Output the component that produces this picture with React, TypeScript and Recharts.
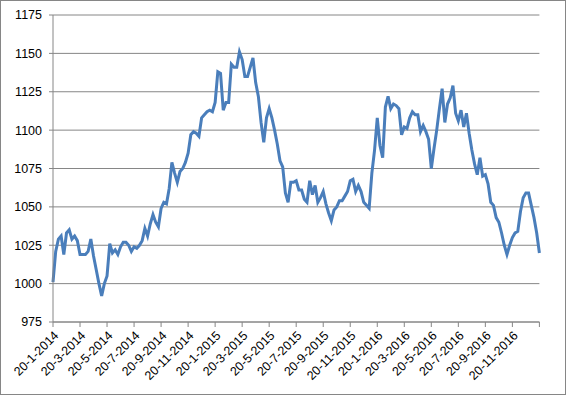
import { LineChart, Line, XAxis, YAxis, CartesianGrid } from "recharts";

// index value, 10 points per two-month tick interval
const values = [
  1001, 1021, 1029, 1031, 1019, 1033, 1035, 1029, 1031, 1028,
  1019, 1019, 1019, 1021, 1029, 1018, 1009, 1000, 992, 1000,
  1005, 1026, 1020, 1022, 1019, 1024, 1027, 1027, 1025, 1021,
  1024, 1023, 1025, 1028, 1036, 1031, 1039, 1045, 1040, 1037,
  1049, 1053, 1052, 1062, 1079, 1072, 1066, 1073, 1075, 1079,
  1085, 1097, 1099, 1098, 1096, 1108, 1110, 1112, 1113, 1112,
  1118, 1138, 1137, 1113, 1118, 1118, 1143, 1141, 1141, 1151,
  1146, 1135, 1135, 1141, 1147, 1131, 1122, 1105, 1092, 1108,
  1114, 1108, 1100, 1091, 1080, 1076, 1059, 1053, 1066, 1066,
  1067, 1061, 1061, 1055, 1053, 1067, 1058, 1064, 1053, 1056,
  1060, 1052, 1046, 1041, 1048, 1050, 1054, 1054, 1057, 1060,
  1067, 1068, 1060, 1064, 1060, 1053, 1051, 1049, 1072, 1087,
  1108, 1090, 1082, 1115, 1122, 1114, 1117, 1116, 1114, 1097,
  1102, 1101, 1108, 1112, 1110, 1110, 1099, 1103, 1099, 1094,
  1075, 1088, 1100, 1114, 1127, 1105, 1117, 1121, 1129, 1111,
  1106, 1113, 1102, 1111, 1098, 1087, 1078, 1071, 1082, 1070,
  1071, 1065, 1053, 1051, 1043, 1040, 1033, 1025, 1019, 1025,
  1030, 1033, 1034, 1047, 1056, 1059, 1059, 1051, 1043, 1033,
  1020,
];

const tickLabels = [
  "20-1-2014", "20-3-2014", "20-5-2014", "20-7-2014", "20-9-2014", "20-11-2014",
  "20-1-2015", "20-3-2015", "20-5-2015", "20-7-2015", "20-9-2015", "20-11-2015",
  "20-1-2016", "20-3-2016", "20-5-2016", "20-7-2016", "20-9-2016", "20-11-2016",
  "",
];

const yTicks = [975, 1000, 1025, 1050, 1075, 1100, 1125, 1150, 1175];
const pointsPerTick = 10;

const data = values.map((v, i) => ({ i, v }));
const xTicks = tickLabels.map((_, k) => k * pointsPerTick);

const font = "'Liberation Sans', Arial, sans-serif";
const gray = "#868686";

export default function App() {
  return (
    <div style={{ position: "relative", width: 566, height: 395, background: "#fff" }}>
      <style>{`body{margin:0}`}</style>
      <LineChart
        width={566}
        height={395}
        data={data}
        margin={{ top: 15, right: 26.6, bottom: 0, left: 0 }}
      >
        <CartesianGrid vertical={false} stroke={gray} strokeWidth={1} />
        <XAxis
          dataKey="i"
          type="number"
          domain={[0, values.length - 1]}
          ticks={xTicks}
          interval={0}
          tickFormatter={(t: number) => tickLabels[Math.round(t / pointsPerTick)]}
          angle={-45}
          textAnchor="end"
          height={73}
          tickSize={5}
          tickMargin={3}
          stroke={gray}
          tick={{ fill: "#000", fontSize: 12.5, fontFamily: font }}
        />
        <YAxis
          domain={[975, 1175]}
          ticks={yTicks}
          interval={0}
          width={53}
          tickSize={4}
          tickMargin={7}
          stroke={gray}
          tick={{ fill: "#000", fontSize: 12.5, fontFamily: font }}
        />
        <Line
          dataKey="v"
          type="linear"
          stroke="#4A7EBB"
          strokeWidth={3}
          dot={false}
          isAnimationActive={false}
        />
      </LineChart>
      <div
        style={{
          position: "absolute",
          inset: 0,
          border: `1px solid ${gray}`,
          pointerEvents: "none",
        }}
      />
    </div>
  );
}
